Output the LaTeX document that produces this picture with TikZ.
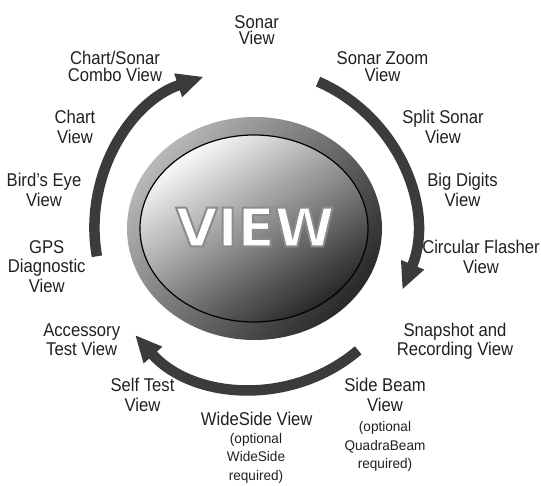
\documentclass[tikz,border=0pt]{standalone}
\usepackage{fontspec}
\setmainfont{Liberation Sans}[FakeStretch=0.9]
\newfontfamily\notefont{Liberation Sans}[FakeStretch=0.97]
\newfontfamily\viewfont{DejaVu Sans}[FakeStretch=1.02]
\usetikzlibrary{arrows.meta,calc}
\definecolor{arrowgray}{HTML}{3B3B3D}
\definecolor{labelblack}{HTML}{231F20}
\lineskiplimit=-50pt
\tikzset{
  lbl/.style={anchor=north, inner sep=0pt, align=center, text=labelblack, font=\fontsize{18.5}{19.5}\selectfont},
  toplbl/.style={lbl, font=\fontsize{18.5}{16.8}\selectfont},
  notelbl/.style={anchor=north, inner sep=0pt, align=center, text=labelblack, font=\notefont\fontsize{14}{18.3}\selectfont},
  arr/.style={draw=arrowgray, line width=10.5pt, -{Triangle[length=27pt,width=23pt]}},
}
\begin{document}
\begin{tikzpicture}[x=1pt,y=1pt]
\useasboundingbox (0,0) rectangle (541,486);
\coordinate (c) at (254.5,257.5);
% button
\shade[top color=black!28, bottom color=black!84, shading angle=50] (c) ellipse[x radius=127.5, y radius=111.5];
\shade[top color=black!2, middle color=black!40, bottom color=black!85, shading angle=34, draw=black, line width=1.2pt] (254,257.5) ellipse[x radius=114, y radius=93.5];
\node[inner sep=0pt, text=white, font=\viewfont\bfseries\fontsize{53}{53}\selectfont] (view) at (255,259)
  {\special{pdf:literal direct 2 Tr 0.55 G 2 w}VIEW\special{pdf:literal direct 0 Tr}};
% arrows
\draw[arr] ([shift={(190:160)}]c) arc[start angle=190, end angle=108.5, radius=160];
\draw[arr] ([shift={(66.6:160)}]c) arc[start angle=66.6, end angle=-22.5, radius=160];
\draw[arr] ([shift={(-49.6:160)}]c) arc[start angle=-49.6, end angle=-138.3, radius=160];
% labels
\node[toplbl] (sonar) at (256.7,471) {Sonar\\View};
\node[toplbl] (zoom) at (382.5,434.3) {Sonar Zoom\\View};
\node[toplbl] (combo) at (115,435.3) {Chart/Sonar\\Combo View};
\node[lbl] (split) at (443,376) {Split Sonar\\View};
\node[lbl] (digits) at (462.5,312.6) {Big Digits\\View};
\node[lbl] (flasher) at (481,246) {Circular Flasher\\View};
\node[lbl] (snap) at (455,163.3) {Snapshot and\\Recording View};
\node[lbl] (chart) at (75,376) {Chart\\View};
\node[lbl] (bird) at (44,312.6) {Bird’s Eye\\View};
\node[lbl] (gps) at (46.7,246) {GPS\\Diagnostic\\View};
\node[lbl] (acc) at (81.7,162.6) {Accessory\\Test View};
\node[lbl] (self) at (142.5,107.6) {Self Test\\View};
\node[lbl] (side) at (385,107.6) {Side Beam\\View};
\node[notelbl] (sidenote) at (385,64.5) {(optional\\QuadraBeam\\required)};
\node[lbl] (wide) at (256.7,74.3) {WideSide View};
\node[notelbl] (widenote) at (256,52.9) {(optional\\WideSide\\required)};
\end{tikzpicture}
\end{document}
